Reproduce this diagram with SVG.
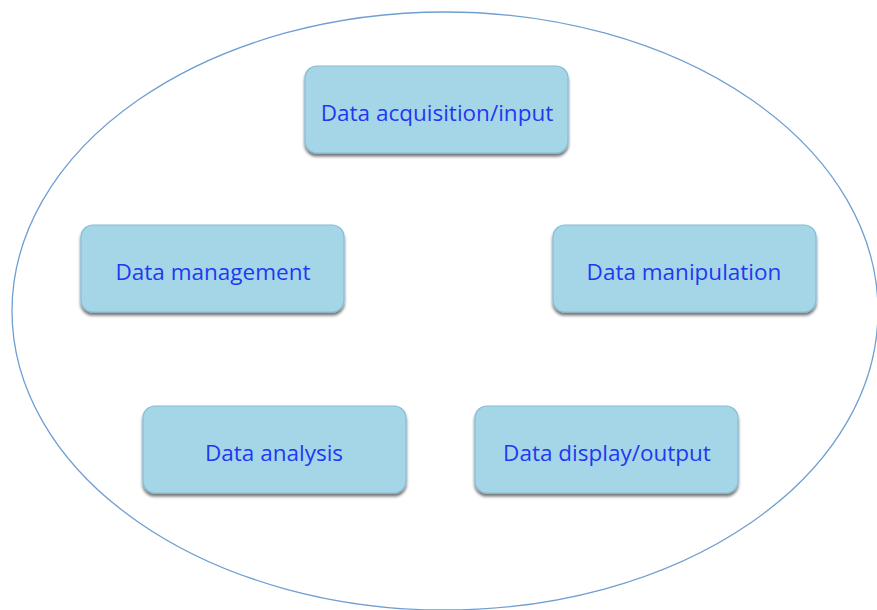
<svg xmlns="http://www.w3.org/2000/svg" width="877" height="610" viewBox="0 0 877 610">
<defs>
<filter id="sh" x="-10%" y="-10%" width="120%" height="130%">
<feGaussianBlur in="SourceAlpha" stdDeviation="1.5"/>
<feOffset dx="0" dy="2.5" result="b"/>
<feComponentTransfer><feFuncA type="linear" slope="0.55"/></feComponentTransfer>
<feMerge><feMergeNode/><feMergeNode in="SourceGraphic"/></feMerge>
</filter>
<style>
.box{fill:#a5d6e7;stroke:#86bcd6;stroke-width:1.2;filter:url(#sh)}
.lbl{font-family:"Open Sans","Liberation Sans",sans-serif;font-size:22.5px;fill:#1f38f2;text-anchor:middle;dominant-baseline:central}
</style>
</defs>
<rect width="877" height="610" fill="#ffffff"/>
<ellipse cx="445" cy="311" rx="433" ry="299" fill="none" stroke="#6f9fd0" stroke-width="1.3"/>
<g id="connectors"/>
<g id="n1"><rect class="box" x="305" y="66" width="263" height="87" rx="12"/><text class="lbl" x="437" y="112">Data acquisition/input</text></g>
<g id="n2"><rect class="box" x="81" y="225" width="263" height="87" rx="12"/><text class="lbl" x="213" y="271">Data management</text></g>
<g id="n3"><rect class="box" x="553" y="225" width="263" height="87" rx="12"/><text class="lbl" x="684" y="271">Data manipulation</text></g>
<g id="n4"><rect class="box" x="143" y="406" width="263" height="87" rx="12"/><text class="lbl" x="274" y="452">Data analysis</text></g>
<g id="n5"><rect class="box" x="475" y="406" width="263" height="87" rx="12"/><text class="lbl" x="607" y="452">Data display/output</text></g>
</svg>
